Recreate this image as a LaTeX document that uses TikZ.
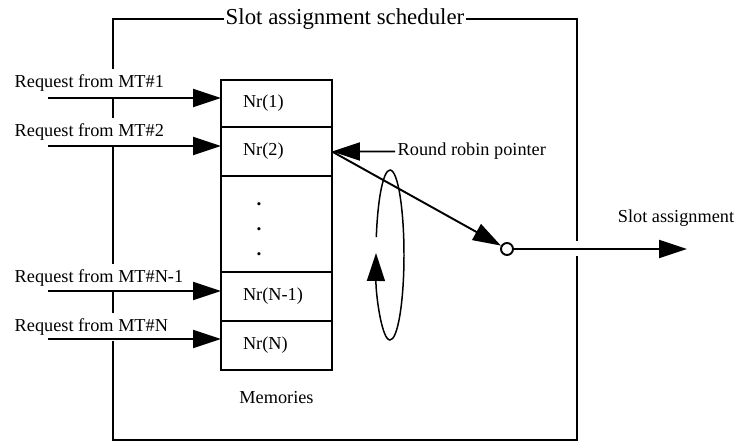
\documentclass[tikz,border=0pt]{standalone}
\usepackage{fontspec}
\setmainfont{Liberation Serif}
\usetikzlibrary{positioning,arrows.meta}

\begin{document}
\begin{tikzpicture}[
    x=0.02cm, y=0.02cm,
    font=\fontsize{10.4}{12}\selectfont,
    line width=1.1pt,
    cell/.style={rectangle, draw, outer sep=0pt, minimum width=2.22cm, minimum height=0.98cm, text width=1.34cm, inner xsep=0.44cm, align=left},
    req/.style={anchor=west, fill=white, inner xsep=1pt, inner ysep=3pt},
    arrow/.style={-{Triangle[length=0.56cm, width=0.36cm]}}
]
    \useasboundingbox (0,0) rectangle (737,443);

    % Scheduler frame
    \draw (577,202) |- (113,424) |- (577,3) -- (577,187);
    \node[fill=white, inner xsep=1pt, font=\fontsize{13}{15}\selectfont] (title) at (345,424) {Slot assignment scheduler};

    % Memories
    \node[cell, minimum height=0.94cm] (mem1) at (276.5,339.5) {Nr(1)};
    \node[cell, below=0pt of mem1] (mem2) {Nr(2)};
    \node[cell, below=0pt of mem2, minimum height=1.92cm] (memdots) {};
    \node[align=center, inner sep=0pt, font=\fontsize{11}{14.2}\selectfont\bfseries] (dots) at ([xshift=-0.35cm, yshift=-0.1cm]memdots.center) {.\\.\\.};
    \node[cell, below=0pt of memdots] (memN1) {Nr(N-1)};
    \node[cell, below=0pt of memN1] (memN) {Nr(N)};
    \node[below=0.3cm of memN] (memlabel) {Memories};

    % Requests
    \node[req] (req1) at (12,360) {Request from MT\#1};
    \node[req] (req2) at (12,311) {Request from MT\#2};
    \node[req] (reqN1) at (12,165) {Request from MT\#N-1};
    \node[req] (reqN) at (12,116) {Request from MT\#N};
    \coordinate (in1) at (48,345);
    \coordinate (in2) at (48,297);
    \coordinate (inN1) at (48,152);
    \coordinate (inN) at (48,104);
    \draw[arrow] (in1) -- (in1 -| mem1.west);
    \draw[arrow] (in2) -- (in2 -| mem2.west);
    \draw[arrow] (inN1) -- (inN1 -| memN1.west);
    \draw[arrow] (inN) -- (inN -| memN.west);

    % Round robin pointer
    \node[anchor=west, inner sep=1pt] (rr) at (395,291.5) {Round robin pointer};
    \draw[arrow] (rr.west) -- (mem2.east);
    \coordinate (rrc) at (390,188);
    \draw[arrow, line width=0.85pt] (rrc) ++(167.8:0.28cm and 1.7cm) arc[start angle=167.8, end angle=-181.35, x radius=0.28cm, y radius=1.7cm];

    % Output
    \node[circle, draw, minimum size=0.24cm, inner sep=0pt] (sw) at (507,194) {};
    \coordinate (out) at (687,194);
    \draw[arrow] (mem2.east) -- (sw);
    \draw[arrow] (sw) -- (out);
    \node (outlabel) at (676,225) {Slot assignment};

\end{tikzpicture}
\end{document}
